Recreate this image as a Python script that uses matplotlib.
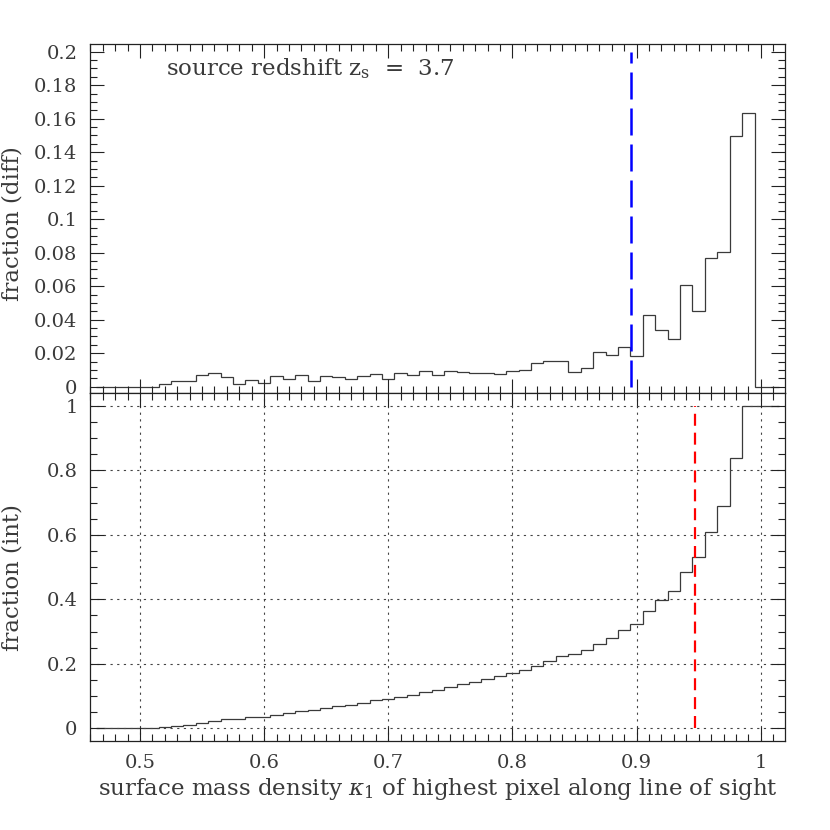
import numpy as np
import matplotlib
matplotlib.use("Agg")
import matplotlib.pyplot as plt
from matplotlib.ticker import MultipleLocator, FuncFormatter

plt.rcParams['font.family'] = ['DejaVu Serif']
plt.rcParams['mathtext.fontset'] = 'dejavuserif'

# ---- data ----
# histogram bins of width 0.01, centred at 0.47 ... 1.01
bin_centers = np.round(np.arange(0.47, 1.015, 0.01), 2)
bin_width = 0.01

frac_diff = [
    0, 0, 0, 0, 0,                                   # 0.47-0.51
    0.0018, 0.0034, 0.0034, 0.0068, 0.0080,          # 0.52-0.56
    0.0058, 0.0018, 0.0040, 0.0024, 0.0062,          # 0.57-0.61
    0.0046, 0.0070, 0.0034, 0.0062, 0.0058,          # 0.62-0.66
    0.0046, 0.0064, 0.0074, 0.0046, 0.0080,          # 0.67-0.71
    0.0068, 0.0092, 0.0068, 0.0096, 0.0090,          # 0.72-0.76
    0.0084, 0.0084, 0.0074, 0.0096, 0.0102,          # 0.77-0.81
    0.0140, 0.0152, 0.0152, 0.0090, 0.0110,          # 0.82-0.86
    0.0205, 0.0188, 0.0238, 0.0183, 0.0428,          # 0.87-0.91
    0.0337, 0.0283, 0.0605, 0.0450, 0.0767,          # 0.92-0.96
    0.0804, 0.1495, 0.1632, 0, 0,                    # 0.97-1.01
]

frac_int = [
    0, 0, 0, 0, 0,                                   # 0.47-0.51
    0.003, 0.007, 0.010, 0.0155, 0.022,              # 0.52-0.56
    0.028, 0.030, 0.034, 0.036, 0.042,               # 0.57-0.61
    0.0475, 0.054, 0.057, 0.063, 0.070,              # 0.62-0.66
    0.073, 0.0795, 0.087, 0.091, 0.097,              # 0.67-0.71
    0.103, 0.113, 0.120, 0.128, 0.1365,              # 0.72-0.76
    0.145, 0.153, 0.161, 0.171, 0.180,               # 0.77-0.81
    0.193, 0.208, 0.223, 0.2305, 0.243,              # 0.82-0.86
    0.2625, 0.280, 0.305, 0.323, 0.364,              # 0.87-0.91
    0.398, 0.426, 0.486, 0.5305, 0.608,              # 0.92-0.96
    0.689, 0.838, 1.0, 1.0, 1.0,                     # 0.97-1.01
]

kappa_diff_marker = 0.8957   # blue dashed line (top panel)
kappa_int_marker = 0.9472    # red dashed line (bottom panel)
source_z = 3.7

x_ticks = [0.5, 0.6, 0.7, 0.8, 0.9, 1.0]

# ---- figure ----
fig = plt.figure(figsize=(8.3, 8.3), dpi=100)
L, R = 90 / 830, 785 / 830
ax1 = fig.add_axes([L, 1 - 393 / 830, R - L, (393 - 44) / 830])
ax2 = fig.add_axes([L, 1 - 741 / 830, R - L, (741 - 393) / 830])

edges = np.append(bin_centers - bin_width / 2, bin_centers[-1] + bin_width / 2)
line_col = '#3a3a3a'
text_col = '#3a3a3a'

ax1.stairs(frac_diff, edges, baseline=None, color=line_col, lw=0.9)
ax2.stairs(frac_int, edges, baseline=None, color=line_col, lw=0.9)

ax1.plot([kappa_diff_marker, kappa_diff_marker], [0, 0.2], color='#0000ff',
         lw=1.8, linestyle=(0, (10.8, 3.6)), solid_capstyle='butt')
ax2.plot([kappa_int_marker, kappa_int_marker], [0, 1.0], color='#ff0000',
         lw=1.6, linestyle=(0, (5.4, 3.1)), solid_capstyle='butt')

ax1.text(0.521, 0.186, r'source redshift z$_{\rm s}$  =  ' + f'{source_z}',
         fontsize=16.5, color=text_col, ha='left', va='baseline')

fmt = FuncFormatter(lambda v, p: f'{v:g}')
for ax in (ax1, ax2):
    ax.set_xlim(0.4598, 1.0195)
    ax.set_xticks(x_ticks)
    ax.xaxis.set_minor_locator(MultipleLocator(0.01))
    ax.xaxis.set_major_formatter(fmt)
    ax.yaxis.set_major_formatter(fmt)
    ax.tick_params(which='both', direction='in', top=True, right=True,
                   colors='#222222', labelcolor=text_col, labelsize=14, width=0.8)
    ax.tick_params(which='major', length=10, pad=9)
    ax.tick_params(which='minor', length=5)
    for s in ax.spines.values():
        s.set_color('#222222')
        s.set_linewidth(0.9)

ax1.set_ylim(-0.0038, 0.2046)
ax1.yaxis.set_major_locator(MultipleLocator(0.02))
ax1.yaxis.set_minor_locator(MultipleLocator(0.005))
ax1.tick_params(axis='x', labelbottom=False)

ax2.set_ylim(-0.0394, 1.0403)
ax2.yaxis.set_major_locator(MultipleLocator(0.2))
ax2.yaxis.set_minor_locator(MultipleLocator(0.05))
ax2.grid(True, which='major', color='#444444', linestyle=(0, (2, 4)), lw=0.8)

ax1.set_ylabel('fraction (diff)', fontsize=16.5, color=text_col)
ax2.set_ylabel('fraction (int)', fontsize=16.5, color=text_col)
ax1.yaxis.set_label_coords(-0.095, 0.485)
ax2.yaxis.set_label_coords(-0.095, 0.47)
ax2.set_xlabel(r'surface mass density $\kappa_1$ of highest pixel along line of sight',
               fontsize=16.5, color=text_col, labelpad=3)

fig.savefig('out.png', dpi=100)
